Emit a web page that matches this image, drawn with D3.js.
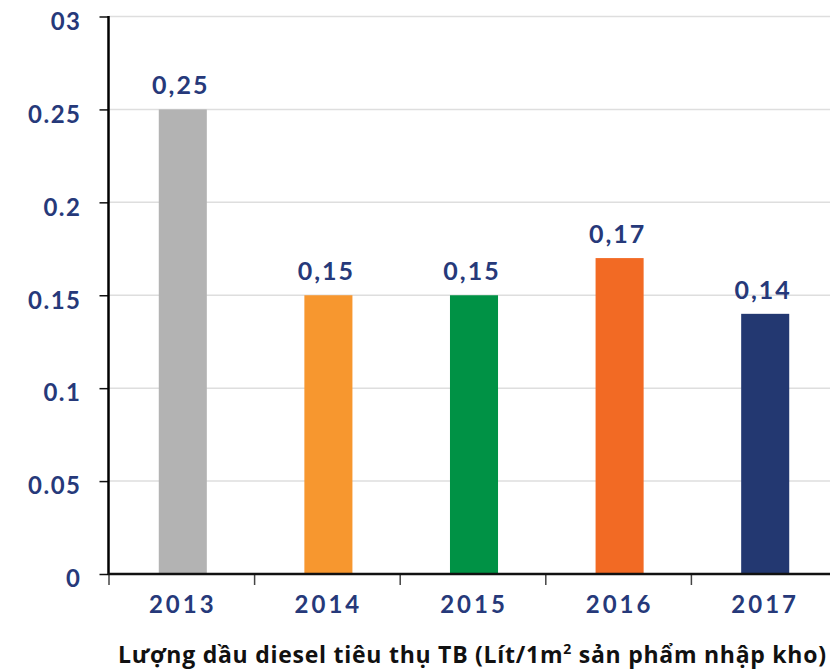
<!DOCTYPE html>
<html>
<head>
<meta charset="utf-8">
<script src="https://cdn.jsdelivr.net/npm/d3@7"></script>
<style>
  html, body { margin: 0; padding: 0; background: #fff; }
  svg { display: block; }
  text { font-family: Lato, "Noto Sans", sans-serif; font-weight: 700; }
</style>
</head>
<body>
<svg id="chart" width="830" height="670"></svg>
<script>
// Average diesel consumption per year
const years = ["2013", "2014", "2015", "2016", "2017"];
const values = [0.25, 0.15, 0.15, 0.17, 0.14];
const valueLabels = ["0,25", "0,15", "0,15", "0,17", "0,14"];
const barColors = ["#b3b3b3", "#f7972f", "#009245", "#f26a24", "#233871"];
const yTicks = [0, 0.05, 0.1, 0.15, 0.2, 0.25, 0.3];
const yTickLabels = ["0", "0.05", "0.1", "0.15", "0.2", "0.25", "03"];
const caption = "Lượng dầu diesel tiêu thụ TB (Lít/1m";
const captionTail = " sản phẩm nhập kho)";

const navy = "#26397a";
const svg = d3.select("#chart");
const W = 830;

const x = d3.scaleBand().domain(years).range([110, 838]).paddingInner(0.67).paddingOuter(0.335);
const xEdges = d3.scaleBand().domain(years).range([109, 837]);
const y = d3.scaleLinear().domain([0, 0.3]).range([574, 16.5]);

// horizontal gridlines
svg.append("g").selectAll("line").data(yTicks.slice(1)).join("line")
  .attr("x1", 109).attr("x2", W)
  .attr("y1", d => y(d)).attr("y2", d => y(d))
  .attr("stroke", "#dedede").attr("stroke-width", 1.5);

// bars
svg.append("g").selectAll("rect").data(years).join("rect")
  .attr("x", d => x(d))
  .attr("width", x.bandwidth())
  .attr("y", (d, i) => y(values[i]))
  .attr("height", (d, i) => y(0) - y(values[i]))
  .attr("fill", (d, i) => barColors[i]);

// value labels
svg.append("g").selectAll("text").data(years).join("text")
  .attr("x", d => x(d) + x.bandwidth() / 2 - 2)
  .attr("y", (d, i) => y(values[i]) - 15)
  .attr("text-anchor", "middle")
  .attr("fill", navy)
  .attr("font-size", 25)
  .attr("letter-spacing", 2)
  .text((d, i) => valueLabels[i]);

// y axis
const yAxis = d3.axisLeft(y).tickValues(yTicks).tickSize(9).tickPadding(18)
  .tickFormat((d, i) => yTickLabels[i]);
const gy = svg.append("g").attr("transform", "translate(108.5,0)").call(yAxis);
gy.select(".domain").remove();
gy.selectAll(".tick line").attr("stroke", "#111").attr("stroke-width", 1.5);
gy.selectAll(".tick text")
  .attr("fill", navy).attr("font-size", 24).attr("letter-spacing", 1.5)
  .attr("dy", "0.72em").attr("y", -4.5)
  .style("font-family", "Lato, 'Noto Sans', sans-serif").style("font-weight", 700);
svg.append("line").attr("x1", 108.5).attr("x2", 108.5).attr("y1", 16).attr("y2", 575)
  .attr("stroke", "#000").attr("stroke-width", 2.5);

// x axis with ticks at category boundaries
const edges = years.map(d => xEdges(d));
svg.append("g").selectAll("line").data(edges).join("line")
  .attr("x1", d => d).attr("x2", d => d).attr("y1", 574).attr("y2", 585)
  .attr("stroke", "#444").attr("stroke-width", 1.5);
svg.append("line").attr("x1", 108).attr("x2", W).attr("y1", 574).attr("y2", 574)
  .attr("stroke", "#111").attr("stroke-width", 2.5);

svg.append("g").selectAll("text").data(years).join("text")
  .attr("x", d => x(d) + x.bandwidth() / 2)
  .attr("y", 613)
  .attr("text-anchor", "middle")
  .attr("fill", navy)
  .attr("font-size", 24)
  .attr("letter-spacing", 3)
  .text(d => d);

// caption
const cap = svg.append("text").attr("x", 118).attr("y", 663)
  .attr("fill", "#111").attr("font-size", 23)
  .style("font-family", "'Open Sans', Lato, sans-serif")
  .attr("textLength", 708).attr("lengthAdjust", "spacing");
cap.append("tspan").text(caption);
cap.append("tspan").attr("font-size", 14).attr("dy", -9).text("2");
cap.append("tspan").attr("dy", 9).text(captionTail);
</script>
</body>
</html>
